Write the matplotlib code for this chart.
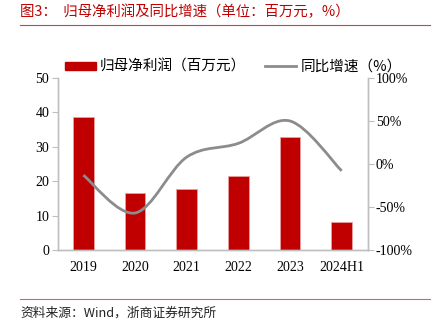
import numpy as np
import matplotlib
matplotlib.use("Agg")
import matplotlib.pyplot as plt
from matplotlib.path import Path
from matplotlib.patches import PathPatch
from matplotlib.lines import Line2D
from matplotlib.patches import Patch

plt.rcParams['font.family'] = ['Liberation Serif', 'Noto Sans CJK SC', 'DejaVu Sans']

years = ["2019", "2020", "2021", "2022", "2023", "2024H1"]
profit = [38.6, 16.6, 17.7, 21.5, 32.8, 8.0]          # 百万元
growth = [-13, -57, 8, 24, 50, -8]                     # %

RED = "#C00000"
GREY = "#8C8C8C"
AX = "#BFBFBF"
CJK = ["Noto Sans CJK SC", "DejaVu Sans"]


def smooth_path(xs, ys, t=1 / 6):
    # Catmull-Rom style bezier through the points (like Excel smoothed lines)
    pts = np.column_stack([xs, ys]).astype(float)
    n = len(pts)
    verts = [pts[0]]
    codes = [Path.MOVETO]
    for i in range(n - 1):
        p0 = pts[i - 1] if i > 0 else pts[i]
        p1, p2 = pts[i], pts[i + 1]
        p3 = pts[i + 2] if i + 2 < n else pts[i + 1]
        c1 = p1 + (p2 - p0) * t
        c2 = p2 - (p3 - p1) * t
        verts += [c1, c2, p2]
        codes += [Path.CURVE4] * 3
    return Path(verts, codes)


fig = plt.figure(figsize=(4.43, 3.30), dpi=100)
ax = fig.add_axes([57.5 / 443, 80 / 330, (367.5 - 57.5) / 443, (250 - 78) / 330])
x = np.arange(len(years))
ax.bar(x, profit, width=0.4, color=RED, edgecolor="#E8A0A0", linewidth=0.6, zorder=2)
ax.set_ylim(0, 50)
ax.set_yticks(range(0, 51, 10))
ax.set_xlim(-0.5, len(years) - 0.5)
ax.set_xticks(x)
ax.set_xticklabels(years)

ax2 = ax.twinx()
ax2.set_ylim(-100, 100)
ax2.set_yticks(range(-100, 101, 50))
ax2.set_yticklabels([f"{v}%" for v in range(-100, 101, 50)])
ax2.add_patch(PathPatch(smooth_path(x, growth), facecolor="none",
                        edgecolor=GREY, linewidth=2, zorder=3))

for a in (ax, ax2):
    a.spines["top"].set_visible(False)
    for s in ("left", "right", "bottom"):
        a.spines[s].set_color(AX)
        a.spines[s].set_linewidth(1)
    a.tick_params(axis="y", length=4, color=AX, labelsize=10, pad=2)
    a.tick_params(axis="x", length=0, labelsize=10, pad=8)

handles = [Patch(facecolor=RED, edgecolor=RED),
           Line2D([0], [0], color=GREY, linewidth=2)]
labels = ["归母净利润（百万元）", "同比增速（%）"]
fig.legend(handles, labels, loc="center left", bbox_to_anchor=(52 / 443, 1 - 67 / 330),
           ncol=2, frameon=False, handlelength=2.1, handleheight=0.45,
           columnspacing=1.3, handletextpad=0.3,
           prop={"family": CJK, "size": 10.5})

fig.text(20 / 443, 1 - 12 / 330, "图3：  归母净利润及同比增速（单位：百万元，%）", color=RED,
         fontsize=10.4, va="center", family=CJK)
fig.add_artist(Line2D([20 / 443, 430 / 443], [1 - 24.5 / 330] * 2, color="#D04040", linewidth=0.8))
fig.add_artist(Line2D([20 / 443, 430 / 443], [1 - 299 / 330] * 2, color="#E06060", linewidth=0.8))
fig.text(20 / 443, 1 - 313 / 330, "资料来源：Wind，浙商证券研究所", color="#222222",
         fontsize=9.2, va="center", family=CJK)

fig.savefig("out.png", dpi=100)
